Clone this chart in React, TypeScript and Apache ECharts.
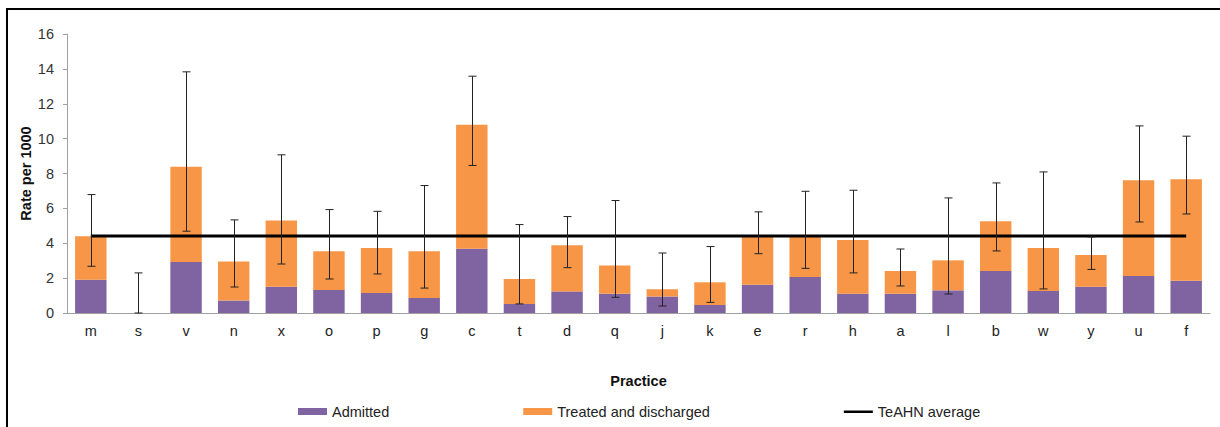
import React, { useEffect, useRef } from "react";
import * as echarts from "echarts";

const categories = ["m", "s", "v", "n", "x", "o", "p", "g", "c", "t", "d", "q", "j", "k", "e", "r", "h", "a", "l", "b", "w", "y", "u", "f"];
const admitted = [1.91, 0, 2.93, 0.71, 1.51, 1.32, 1.15, 0.86, 3.69, 0.52, 1.24, 1.11, 0.95, 0.46, 1.62, 2.07, 1.11, 1.11, 1.30, 2.41, 1.26, 1.51, 2.12, 1.85];
const treated = [2.49, 0, 5.45, 2.25, 3.79, 2.22, 2.58, 2.68, 7.10, 1.43, 2.64, 1.61, 0.41, 1.30, 2.76, 2.31, 3.08, 1.30, 1.72, 2.85, 2.47, 1.82, 5.49, 5.82];
const upperCI = [6.79, 2.30, 13.83, 5.34, 9.07, 5.93, 5.83, 7.31, 13.58, 5.07, 5.53, 6.45, 3.44, 3.81, 5.80, 6.98, 7.04, 3.67, 6.60, 7.46, 8.09, 4.36, 10.73, 10.14];
const lowerCI = [2.68, 0, 4.69, 1.49, 2.81, 1.95, 2.24, 1.43, 8.46, 0.52, 2.60, 0.90, 0.40, 0.61, 3.40, 2.56, 2.30, 1.55, 1.09, 3.56, 1.38, 2.50, 5.22, 5.68];
const teahnAverage = 4.42;
const yTicks = { min: 0, max: 16, interval: 2 };

const FONT = "Arial, 'Liberation Sans', sans-serif";
const LINE_ICON = "path://M0,0h0.01v0.01h-0.01z M0,2.4H29V5H0Z M28.99,6.99h0.01v0.01h-0.01z";

export default function App() {
  const ref = useRef<HTMLDivElement>(null);
  useEffect(() => {
    if (!ref.current) return;
    const chart = echarts.init(ref.current, undefined, { renderer: "svg" });
    const errData = categories.map((_, i) => [i, lowerCI[i], upperCI[i]]);
    chart.setOption({
      animation: false,
      backgroundColor: "#ffffff",
      textStyle: { fontFamily: FONT },
      graphic: [
        {
          type: "rect",
          shape: { x: 7, y: 9, width: 1240, height: 440 },
          style: { fill: "none", stroke: "#000", lineWidth: 2 },
          silent: true,
        },
      ],
      grid: { left: 67, right: 10, top: 34, bottom: 114 },
      legend: {
        left: 293,
        top: 399,
        itemWidth: 29,
        itemHeight: 7,
        itemGap: 134,
        textStyle: { fontSize: 14.5, color: "#222", fontFamily: FONT },
        data: [
          { name: "Admitted", icon: "rect" },
          { name: "Treated and discharged", icon: "rect" },
          { name: "TeAHN average", icon: LINE_ICON, itemStyle: { color: "#000" } },
        ],
      },
      xAxis: {
        type: "category",
        data: categories,
        name: "Practice",
        nameLocation: "middle",
        nameGap: 60,
        nameMoveOverlap: false,
        nameTextStyle: { fontSize: 14.5, fontWeight: "bold", color: "#111", fontFamily: FONT },
        axisLine: { lineStyle: { color: "#a0a0a0", width: 1 } },
        axisTick: { show: false },
        axisLabel: { fontSize: 14.5, color: "#222", margin: 10, fontFamily: FONT },
      },
      yAxis: {
        type: "value",
        min: yTicks.min,
        max: yTicks.max,
        interval: yTicks.interval,
        name: "Rate per 1000",
        nameLocation: "middle",
        nameGap: 34,
        nameMoveOverlap: false,
        nameTextStyle: { fontSize: 14.5, fontWeight: "bold", color: "#111", fontFamily: FONT },
        axisLine: { show: true, lineStyle: { color: "#a0a0a0", width: 1 } },
        axisTick: { show: true, length: 4, lineStyle: { color: "#a0a0a0" } },
        axisLabel: { fontSize: 14.5, color: "#333", margin: 13, fontFamily: FONT },
        splitLine: { show: false },
      },
      series: [
        {
          name: "Admitted",
          type: "bar",
          stack: "total",
          barWidth: "66%",
          data: admitted,
          itemStyle: { color: "#8064A2" },
          z: 2,
        },
        {
          name: "Treated and discharged",
          type: "bar",
          stack: "total",
          barWidth: "66%",
          data: treated,
          itemStyle: { color: "#F79646" },
          z: 2,
        },
        {
          name: "TeAHN average",
          type: "line",
          data: categories.map(() => teahnAverage),
          symbol: "none",
          lineStyle: { color: "#000", width: 3 },
          itemStyle: { color: "#000" },
          z: 3,
        },
        {
          name: "CI",
          type: "custom",
          data: errData,
          encode: { x: 0, y: [1, 2] },
          z: 4,
          renderItem: (params: any, api: any) => {
            const idx = api.value(0);
            const lo = api.coord([idx, api.value(1)]);
            const hi = api.coord([idx, api.value(2)]);
            const x = Math.round(lo[0]) + 0.5;
            const hw = 4;
            const style = { stroke: "#222", lineWidth: 1 };
            return {
              type: "group",
              children: [
                { type: "line", shape: { x1: x, y1: lo[1], x2: x, y2: hi[1] }, style },
                { type: "line", shape: { x1: x - hw, y1: hi[1], x2: x + hw, y2: hi[1] }, style },
                { type: "line", shape: { x1: x - hw, y1: lo[1], x2: x + hw, y2: lo[1] }, style },
              ],
            };
          },
        },
      ],
    });
    return () => chart.dispose();
  }, []);
  return (
    <div
      ref={ref}
      style={{ position: "absolute", left: 0, top: 0, width: 1220, height: 427 }}
    />
  );
}
